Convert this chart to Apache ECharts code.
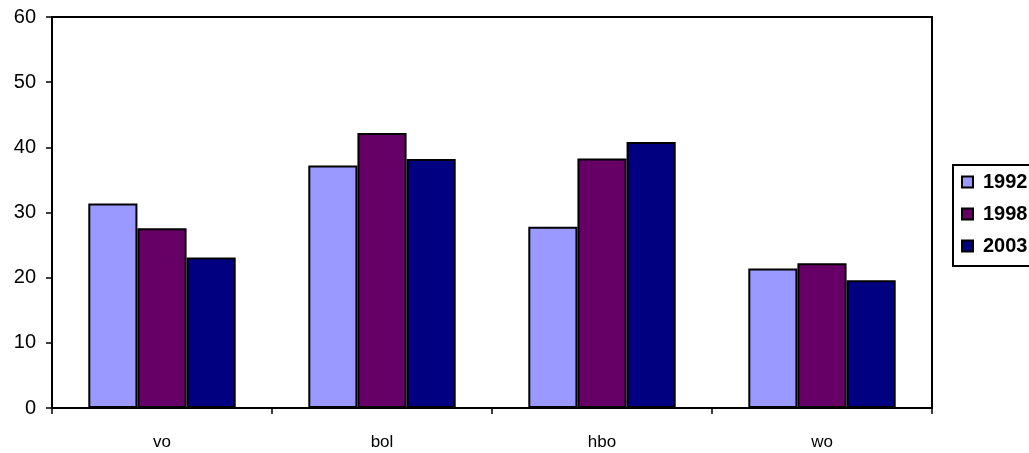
<!DOCTYPE html>
<html><head><meta charset="utf-8">
<script src="https://cdn.jsdelivr.net/npm/echarts@6/dist/echarts.min.js"></script>
<style>html,body{margin:0;padding:0;background:#fff}#c{width:1029px;height:453px}</style>
</head><body><div id="c"></div>
<script>
const categories = ['vo', 'bol', 'hbo', 'wo'];
const seriesNames = ['1992', '1998', '2003'];
const values1992 = [31.4, 37.2, 27.8, 21.4];
const values1998 = [27.6, 42.2, 38.3, 22.2];
const values2003 = [23.1, 38.2, 40.8, 19.6];
const colors = ['#9999ff', '#660066', '#000080'];
const allValues = [values1992, values1998, values2003];

const chart = echarts.init(document.getElementById('c'));
const font = '"Liberation Sans", Arial, sans-serif';
chart.setOption({
  animation: false,
  grid: { left: 52, right: 97, top: 17, bottom: 45, show: true, borderColor: '#000', borderWidth: 2, backgroundColor: 'transparent' },
  legend: {
    orient: 'vertical', left: 953, top: 165,
    backgroundColor: '#fff', borderColor: '#000', borderWidth: 2,
    padding: [7, 40, 10, 8], itemGap: 12, itemWidth: 11, itemHeight: 11,
    icon: 'rect',
    textStyle: { fontFamily: font, fontSize: 20, fontWeight: 'bold', color: '#000', padding: [0,0,0,5] },
    data: seriesNames
  },
  xAxis: {
    type: 'category', data: categories,
    axisLine: { lineStyle: { color: '#000', width: 2 } },
    axisTick: { show: true, length: 6, lineStyle: { color: '#000', width: 1.5 } },
    axisLabel: { fontFamily: font, fontSize: 17, color: '#000', margin: 26 }
  },
  yAxis: {
    type: 'value', min: 0, max: 60, interval: 10,
    axisLine: { show: true, lineStyle: { color: '#000', width: 2 } },
    axisTick: { show: true, length: 6, lineStyle: { color: '#000', width: 1.5 } },
    splitLine: { show: false },
    axisLabel: { fontFamily: font, fontSize: 20, color: '#000', margin: 16 }
  },
  series: seriesNames.map((n, i) => ({
    name: n, type: 'bar', data: allValues[i],
    barGap: '0%', barCategoryGap: '33%',
    itemStyle: { color: colors[i], borderColor: '#000', borderWidth: 2 }
  }))
});
</script></body></html>
